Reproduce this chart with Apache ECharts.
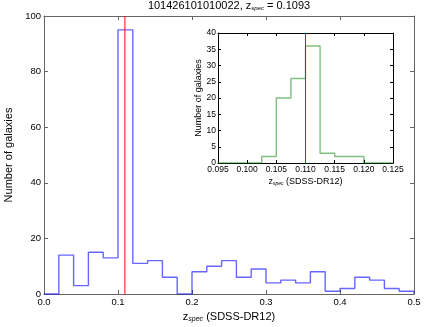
<!DOCTYPE html>
<html>
<head>
<meta charset="utf-8">
<script src="https://cdn.jsdelivr.net/npm/echarts@6/dist/echarts.min.js"></script>
<style>
html,body{margin:0;padding:0;background:#fff;}
#chart{width:436px;height:327px;}
</style>
</head>
<body>
<div id="chart"></div>
<script>
// ---- data ----
var mainEdges = [0.00,0.02,0.04,0.06,0.08,0.10,0.12,0.14,0.16,0.18,0.20,0.22,0.24,0.26,0.28,0.30,0.32,0.34,0.36,0.38,0.40,0.42,0.44,0.46,0.48,0.50];
var mainCounts = [0,14,3,15,13,95,11,12,6,0,8,10,12,6,9,4,5,4,8,1,2,6,5,2,1];
var insetEdges = [0.095,0.0975,0.100,0.1025,0.105,0.1075,0.110,0.1125,0.115,0.1175,0.120,0.1225,0.125];
var insetCounts = [0,0,0,2,20,26,36,3,2,2,0,0];
var zMain = 0.1093;
var zInsetLine = 0.110;
var mainYMax = 100;
var insetYMax = 40;
var titleId = '101426101010022';
var titleZ = '0.1093';
var yLabel = 'Number of galaxies';
var xLabelRest = ' (SDSS-DR12)';

function stepData(edges, counts) {
  var d = [[edges[0], 0]];
  for (var i = 0; i < counts.length; i++) d.push([edges[i], counts[i]]);
  d.push([edges[edges.length - 1], 0]);
  return d;
}

var FONT = 'Liberation Sans, Arial, sans-serif';
var chart = echarts.init(document.getElementById('chart'), null, {renderer: 'canvas'});

function axisBase(color, tickLen) {
  return {
    axisLine: {show: true, onZero: false, lineStyle: {color: color, width: 1}},
    axisTick: {show: true, inside: true, length: tickLen, lineStyle: {color: color}},
    splitLine: {show: false}
  };
}
function vline(xi, yi, x, ymax) {
  return {
    type: 'line', xAxisIndex: xi, yAxisIndex: yi,
    data: [[x, 0], [x, ymax]], showSymbol: false, symbol: 'none', z: 6, silent: true,
    itemStyle: {color: '#ff0000'},
    lineStyle: {color: '#ff0000', width: 1, type: 'solid'}
  };
}

var mainGray = '#666';
var option = {
  animation: false,
  backgroundColor: '#fff',
  title: {
    text: titleId + ', z{sub|spec} = ' + titleZ,
    left: 229, top: 0, textAlign: 'center', padding: 0,
    textStyle: {
      fontFamily: FONT, fontSize: 11, fontWeight: 'normal', color: '#000',
      rich: {sub: {fontFamily: FONT, fontSize: 6, fontStyle: 'italic', color: '#000', verticalAlign: 'bottom', padding: [4, 0, 0, 0]}}
    }
  },
  grid: [
    {left: 44, right: 22, top: 16, bottom: 33, outerBoundsMode: 'none', containLabel: false},
    {left: 218, top: 33, width: 175, height: 130, outerBoundsMode: 'none', containLabel: false}
  ],
  xAxis: [
    Object.assign(axisBase(mainGray, 4), {
      type: 'value', gridIndex: 0, min: 0, max: 0.5, interval: 0.1, position: 'bottom',
      name: 'z{sub|spec}' + xLabelRest, nameLocation: 'middle', nameGap: 12,
      nameTextStyle: {fontFamily: FONT, fontSize: 11, color: '#000',
        rich: {sub: {fontFamily: FONT, fontSize: 7, fontStyle: 'italic', color: '#000', verticalAlign: 'bottom', padding: [4, 0, 0, 0]}}},
      axisLabel: {fontFamily: FONT, fontSize: 9.5, color: '#000', margin: 3, formatter: function (v) { return v.toFixed(1); }}
    }),
    Object.assign(axisBase(mainGray, 4), {
      type: 'value', gridIndex: 0, min: 0, max: 0.5, interval: 0.1, position: 'top',
      axisLabel: {show: false}
    }),
    Object.assign(axisBase('#000', 3), {
      type: 'value', gridIndex: 1, min: 0.095, max: 0.125, interval: 0.005, position: 'bottom',
      name: 'z{sub|spec}' + xLabelRest, nameLocation: 'middle', nameGap: 14,
      nameTextStyle: {fontFamily: FONT, fontSize: 9, color: '#000',
        rich: {sub: {fontFamily: FONT, fontSize: 5, fontStyle: 'italic', color: '#000', verticalAlign: 'bottom', padding: [3, 0, 0, 0]}}},
      axisLabel: {fontFamily: FONT, fontSize: 8.5, color: '#000', margin: 2, showMinLabel: true, showMaxLabel: true, formatter: function (v) { return v.toFixed(3); }}
    }),
    Object.assign(axisBase('#000', 3), {
      type: 'value', gridIndex: 1, min: 0.095, max: 0.125, interval: 0.005, position: 'top',
      axisLabel: {show: false}
    })
  ],
  yAxis: [
    Object.assign(axisBase(mainGray, 4), {
      type: 'value', gridIndex: 0, min: 0, max: mainYMax, interval: 20, position: 'left',
      name: yLabel, nameLocation: 'middle', nameGap: 21,
      nameTextStyle: {fontFamily: FONT, fontSize: 11, color: '#000'},
      axisLabel: {fontFamily: FONT, fontSize: 9.5, color: '#000', margin: 3}
    }),
    Object.assign(axisBase(mainGray, 4), {
      type: 'value', gridIndex: 0, min: 0, max: mainYMax, interval: 20, position: 'right',
      axisLabel: {show: false}
    }),
    Object.assign(axisBase('#000', 3), {
      type: 'value', gridIndex: 1, min: 0, max: insetYMax, interval: 5, position: 'left',
      name: yLabel, nameLocation: 'middle', nameGap: 15,
      nameTextStyle: {fontFamily: FONT, fontSize: 9, color: '#000'},
      axisLabel: {fontFamily: FONT, fontSize: 8.5, color: '#000', margin: 2}
    }),
    Object.assign(axisBase('#000', 3), {
      type: 'value', gridIndex: 1, min: 0, max: insetYMax, interval: 5, position: 'right',
      axisLabel: {show: false}
    })
  ],
  series: [
    {
      type: 'line', xAxisIndex: 0, yAxisIndex: 0, step: 'end',
      data: stepData(mainEdges, mainCounts),
      showSymbol: false, symbol: 'none', z: 5,
      lineStyle: {color: 'rgba(0,0,255,0.6)', width: 1.4}
    },
    vline(0, 0, zMain, mainYMax),
    {
      type: 'line', xAxisIndex: 2, yAxisIndex: 2, step: 'end',
      data: stepData(insetEdges, insetCounts),
      showSymbol: false, symbol: 'none', z: 5,
      lineStyle: {color: 'rgba(0,128,0,0.5)', width: 1.4}
    },
    vline(2, 2, zInsetLine, insetYMax)
  ]
};
chart.setOption(option);
</script>
</body>
</html>
